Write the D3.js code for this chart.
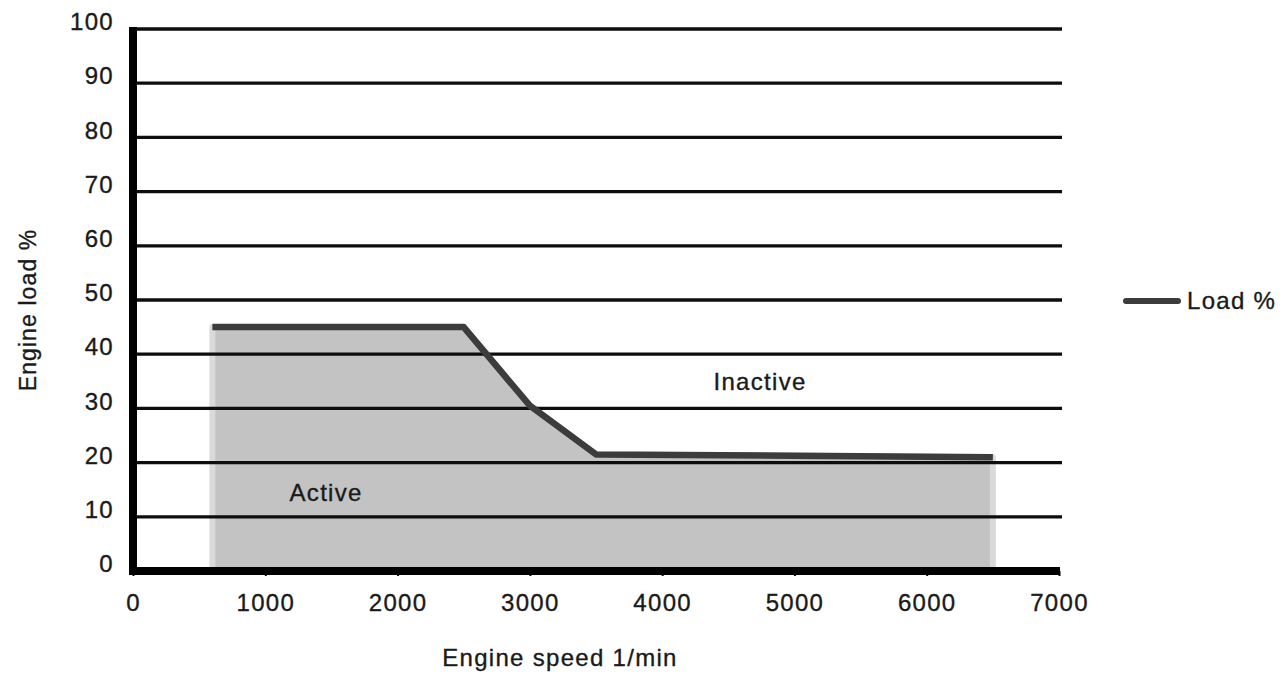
<!DOCTYPE html>
<html>
<head>
<meta charset="utf-8">
<script src="https://cdn.jsdelivr.net/npm/d3@7"></script>
<style>
  html, body { margin: 0; padding: 0; background: #fff; }
  svg { display: block; }
  text { font-family: "Liberation Sans", Arial, sans-serif; fill: #1a1a1a; stroke: #1a1a1a; stroke-width: 0.35px; }
</style>
</head>
<body>
<svg id="chart" width="1285" height="676"></svg>
<script>
// ---- data ----
const speed = [600, 2500, 3000, 3500, 6500];      // engine speed 1/min
const loadPct = [45, 45, 30.5, 21.5, 21];          // Load %
const xTicks = [0, 1000, 2000, 3000, 4000, 5000, 6000, 7000];
const yTicks = [0, 10, 20, 30, 40, 50, 60, 70, 80, 90, 100];
const seriesName = "Load %";
const xTitle = "Engine speed 1/min";
const yTitle = "Engine load %";
const regionLabels = [
  { text: "Inactive", sx: 4740, ly: 35 },
  { text: "Active", sx: 1460, ly: 14.5 }
];

const data = speed.map((s, i) => ({ s, v: loadPct[i] }));

const svg = d3.select("#chart");
const x = d3.scaleLinear().domain([0, 7000]).range([133, 1059]);
const y = d3.scaleLinear().domain([0, 100]).range([571, 29]);

const FS = 24, LS = 1.3;

// area fill
const area = d3.area().x(d => x(d.s)).y0(y(0)).y1(d => y(d.v));
svg.append("path")
  .datum(data)
  .attr("d", area)
  .attr("fill", "#c3c3c3")
  .attr("stroke", "#dadada")
  .attr("stroke-width", 6)
  .attr("stroke-linejoin", "round");

// gridlines (over the fill)
svg.append("g")
  .selectAll("line")
  .data(yTicks.filter(t => t > 0))
  .join("line")
  .attr("x1", x(0)).attr("x2", x(7000) + 3)
  .attr("y1", d => y(d)).attr("y2", d => y(d))
  .attr("stroke", "#0d0d0d")
  .attr("stroke-width", 3.3);

// series line
const line = d3.line().x(d => x(d.s)).y(d => y(d.v));
svg.append("path")
  .datum(data)
  .attr("d", line)
  .attr("fill", "none")
  .attr("stroke", "#3c3c3c")
  .attr("stroke-width", 6.5)
  .attr("stroke-linejoin", "round");

// x axis
const xAxis = d3.axisBottom(x).tickValues(xTicks).tickFormat(d3.format("d"))
  .tickSize(5).tickPadding(18);
const gx = svg.append("g").attr("transform", `translate(0,${y(0)})`).call(xAxis);
gx.select(".domain").attr("stroke", "#000").attr("stroke-width", 8)
  .attr("d", `M${x(0) - 4},0H${x(7000) + 1}`);
gx.selectAll(".tick line").attr("stroke", "#000").attr("stroke-width", 2);
gx.selectAll(".tick text")
  .attr("font-size", FS).attr("letter-spacing", LS)
  .attr("fill", "#1a1a1a")
  .attr("font-family", '"Liberation Sans", Arial, sans-serif');

// y axis
const yAxis = d3.axisLeft(y).tickValues(yTicks).tickSize(0).tickPadding(19);
const gy = svg.append("g").attr("transform", `translate(${x(0)},0)`).call(yAxis);
gy.select(".domain").attr("stroke", "#000").attr("stroke-width", 8)
  .attr("d", `M0,${y(100) - 2}V${y(0) + 4}`);
gy.selectAll(".tick text")
  .attr("font-size", FS).attr("letter-spacing", LS)
  .attr("transform", "translate(0,-7)")
  .attr("fill", "#1a1a1a")
  .attr("font-family", '"Liberation Sans", Arial, sans-serif');

// axis titles
svg.append("text")
  .attr("x", 560).attr("y", 666)
  .attr("text-anchor", "middle")
  .attr("font-size", FS).attr("letter-spacing", LS)
  .text(xTitle);

svg.append("text")
  .attr("transform", `translate(36,310) rotate(-90)`)
  .attr("text-anchor", "middle")
  .attr("font-size", 23).attr("letter-spacing", 1.1)
  .text(yTitle);

// region labels
svg.append("g").selectAll("text")
  .data(regionLabels)
  .join("text")
  .attr("x", d => x(d.sx)).attr("y", d => y(d.ly))
  .attr("dy", "0.35em")
  .attr("text-anchor", "middle")
  .attr("font-size", FS).attr("letter-spacing", LS)
  .text(d => d.text);

// legend
const lg = svg.append("g").attr("transform", "translate(1126,301)");
lg.append("line").attr("x1", 0).attr("x2", 52).attr("y1", 0).attr("y2", 0)
  .attr("stroke", "#3c3c3c").attr("stroke-width", 6).attr("stroke-linecap", "round");
lg.append("text").attr("x", 61).attr("y", 0).attr("dy", "0.35em")
  .attr("font-size", FS).attr("letter-spacing", LS)
  .text(seriesName);
</script>
</body>
</html>
